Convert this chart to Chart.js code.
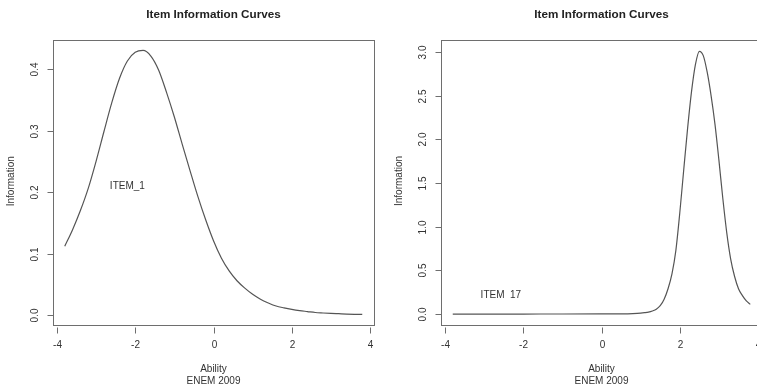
<!DOCTYPE html>
<html lang="en">
<head>
    <meta charset="UTF-8">
    <title>Item Information Curves</title>
    <script src="https://cdn.jsdelivr.net/npm/chart.js"></script>
    <style>
        html, body { margin: 0; padding: 0; background: #fff; overflow: hidden; width: 757px; height: 388px; }
        #left { position: absolute; left: 0; top: 0; }
        #right { position: absolute; left: 378px; top: 0; }
    </style>
</head>
<body>
    <canvas id="left" width="380" height="388"></canvas>
    <canvas id="right" width="392" height="388"></canvas>

    <script>
        // values
        const xTicks = [-4, -2, 0, 2, 4];
        const xTickLabels = ['-4', '-2', '0', '2', '4'];

        const item1Ability = [-3.8, -3.6, -3.4, -3.2, -3.0, -2.8, -2.6, -2.4, -2.2, -2.0, -1.8, -1.6, -1.4, -1.2, -1.0,
            -0.8, -0.6, -0.4, -0.2, 0.0, 0.2, 0.4, 0.6, 0.8, 1.0, 1.2, 1.4, 1.6, 1.8, 2.0, 2.2, 2.4, 2.6, 2.8, 3.0,
            3.2, 3.4, 3.6, 3.8];
        const item1Info = [0.112, 0.139, 0.170, 0.206, 0.250, 0.298, 0.345, 0.385, 0.413, 0.427, 0.430, 0.421, 0.398,
            0.362, 0.322, 0.278, 0.235, 0.193, 0.155, 0.121, 0.093, 0.072, 0.056, 0.044, 0.034, 0.026, 0.020, 0.015,
            0.012, 0.0095, 0.0075, 0.006, 0.0045, 0.0037, 0.003, 0.0025, 0.002, 0.0016, 0.0013];
        const item1YTicks = [0, 0.1, 0.2, 0.3, 0.4];
        const item1YTickLabels = ['0.0', '0.1', '0.2', '0.3', '0.4'];

        const item17Ability = [-3.8, -3.0, -2.0, -1.0, 0.0, 0.5, 0.8, 1.0, 1.1, 1.2, 1.3, 1.4, 1.5, 1.6, 1.7, 1.8, 1.9,
            2.0, 2.1, 2.2, 2.3, 2.4, 2.5, 2.6, 2.7, 2.8, 2.9, 3.0, 3.1, 3.2, 3.3, 3.4, 3.5, 3.6, 3.7, 3.8];
        const item17Info = [0, 0, 0, 0.0002, 0.001, 0.002, 0.005, 0.01, 0.015, 0.022, 0.035, 0.055, 0.095, 0.17, 0.29,
            0.46, 0.73, 1.16, 1.65, 2.13, 2.55, 2.86, 3.01, 2.96, 2.77, 2.50, 2.17, 1.76, 1.32, 0.93, 0.63, 0.43, 0.29,
            0.21, 0.15, 0.11];
        const item17YTicks = [0, 0.5, 1, 1.5, 2, 2.5, 3];
        const item17YTickLabels = ['0.0', '0.5', '1.0', '1.5', '2.0', '2.5', '3.0'];

        const mainTitle = 'Item Information Curves';
        const xTitle = ['Ability', 'ENEM 2009'];
        const yTitle = 'Information';

        const FONT = '"Liberation Sans", Arial, sans-serif';

        // R-style base graphics: box, outside ticks, rotated y labels
        const rAxes = {
            id: 'rAxes',
            afterDraw(chart, args, o) {
                const { ctx, chartArea: a, scales: { x, y } } = chart;
                const L = Math.round(a.left) + 0.5, T = Math.round(a.top) + 0.5;
                const R = Math.round(a.right) + 0.5, B = Math.round(a.bottom) + 0.5;
                ctx.save();
                ctx.strokeStyle = '#6e6e6e';
                ctx.lineWidth = 1;
                ctx.strokeRect(L, T, R - L, B - T);

                ctx.fillStyle = '#333';
                ctx.font = '10px ' + FONT;
                ctx.textAlign = 'center';
                ctx.textBaseline = 'middle';

                // x axis
                xTicks.forEach((v, i) => {
                    const px = Math.round(x.getPixelForValue(v)) + 0.5;
                    ctx.beginPath();
                    ctx.moveTo(px, B + 2);
                    ctx.lineTo(px, B + 8);
                    ctx.stroke();
                    ctx.fillText(xTickLabels[i], px, B + 20);
                });

                // y axis
                o.yTicks.forEach((v, i) => {
                    const py = Math.round(y.getPixelForValue(v)) + 0.5;
                    ctx.beginPath();
                    ctx.moveTo(L - 6, py);
                    ctx.lineTo(L, py);
                    ctx.stroke();
                    ctx.save();
                    ctx.translate(L - 18, py);
                    ctx.rotate(-Math.PI / 2);
                    ctx.fillText(o.yTickLabels[i], 0, 0);
                    ctx.restore();
                });

                const cx = (a.left + a.right) / 2;
                ctx.fillText(xTitle[0], cx, 369);
                ctx.fillText(xTitle[1], cx, 381);

                ctx.save();
                ctx.translate(L - 42, (a.top + a.bottom) / 2 - 1);
                ctx.rotate(-Math.PI / 2);
                ctx.fillText(yTitle, 0, 0);
                ctx.restore();

                // item label inside the plot
                ctx.fillText(o.label, x.getPixelForValue(o.labelX), y.getPixelForValue(o.labelY));

                ctx.fillStyle = '#222';
                ctx.font = 'bold 11.7px ' + FONT;
                ctx.fillText(mainTitle, cx, 15);
                ctx.restore();
            }
        };

        function makePanel(id, xs, ys, yMin, yMax, padding, axisOpts) {
            new Chart(document.getElementById(id), {
                type: 'line',
                data: {
                    datasets: [{
                        data: xs.map((v, i) => ({ x: v, y: ys[i] })),
                        borderColor: '#555',
                        borderWidth: 1.2,
                        pointRadius: 0,
                        fill: false,
                        cubicInterpolationMode: 'monotone'
                    }]
                },
                options: {
                    responsive: false,
                    animation: false,
                    layout: { padding },
                    scales: {
                        x: { type: 'linear', min: -4.1, max: 4.1, display: false },
                        y: { min: yMin, max: yMax, display: false }
                    },
                    plugins: {
                        legend: { display: false },
                        tooltip: { enabled: false },
                        rAxes: axisOpts
                    }
                },
                plugins: [rAxes]
            });
        }

        makePanel('left', item1Ability, item1Info, -0.015, 0.447,
            { left: 53, top: 40, right: 6, bottom: 63.5 },
            { yTicks: item1YTicks, yTickLabels: item1YTickLabels, label: 'ITEM_1', labelX: -2.2, labelY: 0.21 });

        makePanel('right', item17Ability, item17Info, -0.12, 3.145,
            { left: 63, top: 39.5, right: 8, bottom: 63.5 },
            { yTicks: item17YTicks, yTickLabels: item17YTickLabels, label: 'ITEM  17', labelX: -2.57, labelY: 0.21 });
    </script>
</body>
</html>
